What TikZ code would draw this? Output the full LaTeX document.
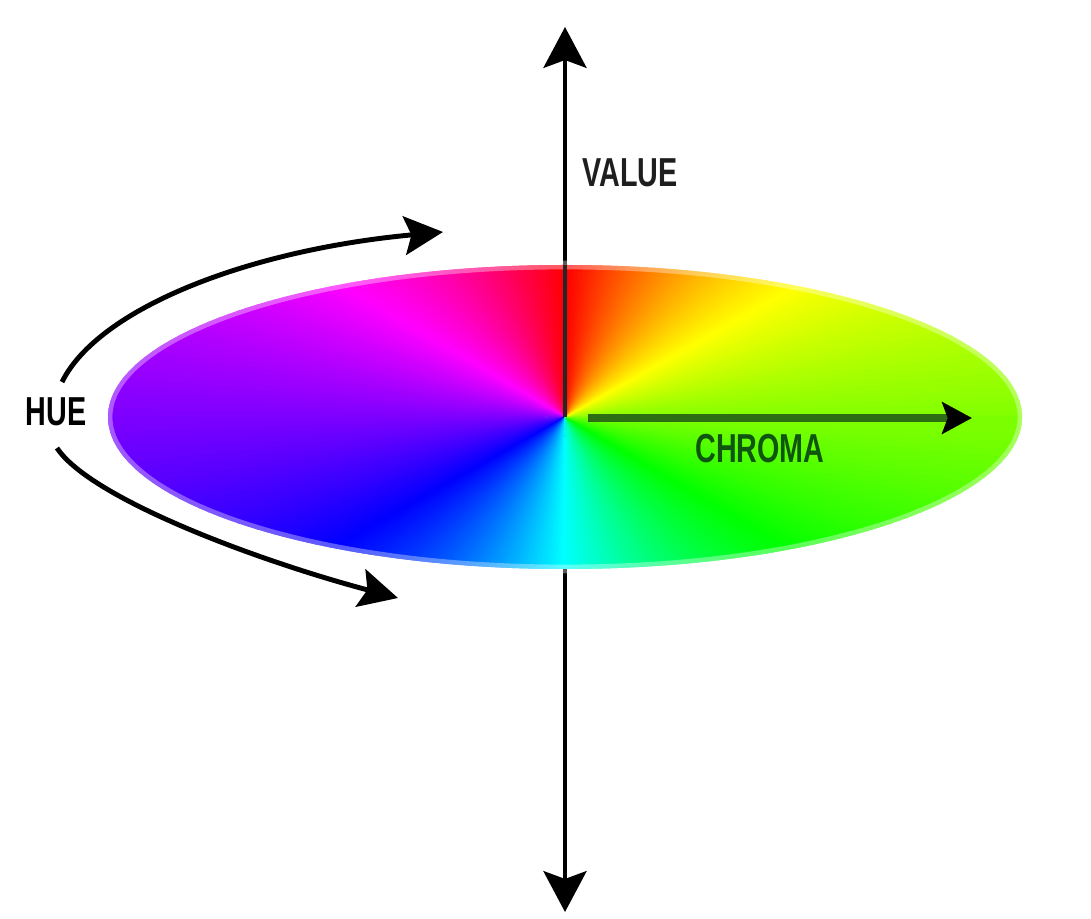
\documentclass[tikz,border=0pt]{standalone}
\usepackage{fontspec}
\setmainfont{Liberation Sans}
\usepackage{graphicx}
\usetikzlibrary{arrows.meta}
\definecolor{chromaline}{RGB}{45,110,20}
\definecolor{chromatext}{RGB}{15,85,15}
\definecolor{valuetext}{RGB}{30,30,30}
\begin{document}
\begin{tikzpicture}[x=0.01cm,y=0.01cm,
  lbl/.style={font=\fontsize{11.5}{12}\selectfont\bfseries, inner sep=0pt},
  axisline/.style={line width=1.4pt, black},
  huearc/.style={line width=1.4pt, black},
  bigtip/.tip={Stealth[length=11.6pt,width=12.2pt,inset=2.2pt]},
  huetip/.tip={Stealth[length=11pt,width=11pt,inset=2pt]},
  chromatip/.tip={Stealth[black,length=8.5pt,width=9pt,inset=1.6pt]}]
\useasboundingbox (0,0) rectangle (1091,918);
\fill[white] (0,0) rectangle (1091,918);
% key points
\coordinate (O) at (565,501);
\coordinate (T) at (565,891);
\coordinate (B) at (565,6);
\coordinate (E) at (565,653);
% value axis (behind the disc)
\draw[axisline, bigtip-bigtip] (B) -- (T);
% hue disc
\begin{scope}
  \clip (O) ellipse[x radius=457, y radius=152];
  \foreach \a in {0,...,359}{
    \pgfmathsetmacro{\h}{mod(450-\a,360)}
    \definecolor{wc}{Hsb}{\h,1,1}
    \fill[wc] (O) -- +(\a-1.1:520) -- +(\a+1.1:520) -- cycle;
  }
\end{scope}
\draw[white, line width=2.5pt, opacity=0.35] (O) ellipse[x radius=457, y radius=152];
% upper part of the axis, in front of the disc
\draw[axisline, black!85] (O) -- (E);
% chroma arrow
\coordinate (C0) at (588,500);
\coordinate (C1) at (972,500);
\draw[line width=2.3pt, chromaline, -chromatip] (C0) -- (C1);
% hue arrows
\coordinate (H1s) at (62,536);
\coordinate (H1e) at (443,686);
\draw[huearc, -huetip] (H1s) .. controls (98.5,609.7) and (248.4,668) .. (H1e);
\coordinate (H2s) at (57,470);
\coordinate (H2e) at (398,320);
\draw[huearc, -huetip] (H2s) .. controls (90,420) and (255,358) .. (H2e);
% labels
\node[lbl, text=valuetext] (value) at (630,745) {\scalebox{0.71}[1]{VALUE}};
\node[lbl, text=chromatext] (chroma) at (760,469) {\scalebox{0.71}[1]{CHROMA}};
\node[lbl, text=black] (hue) at (56,506) {\scalebox{0.71}[1]{HUE}};
\end{tikzpicture}
\end{document}
